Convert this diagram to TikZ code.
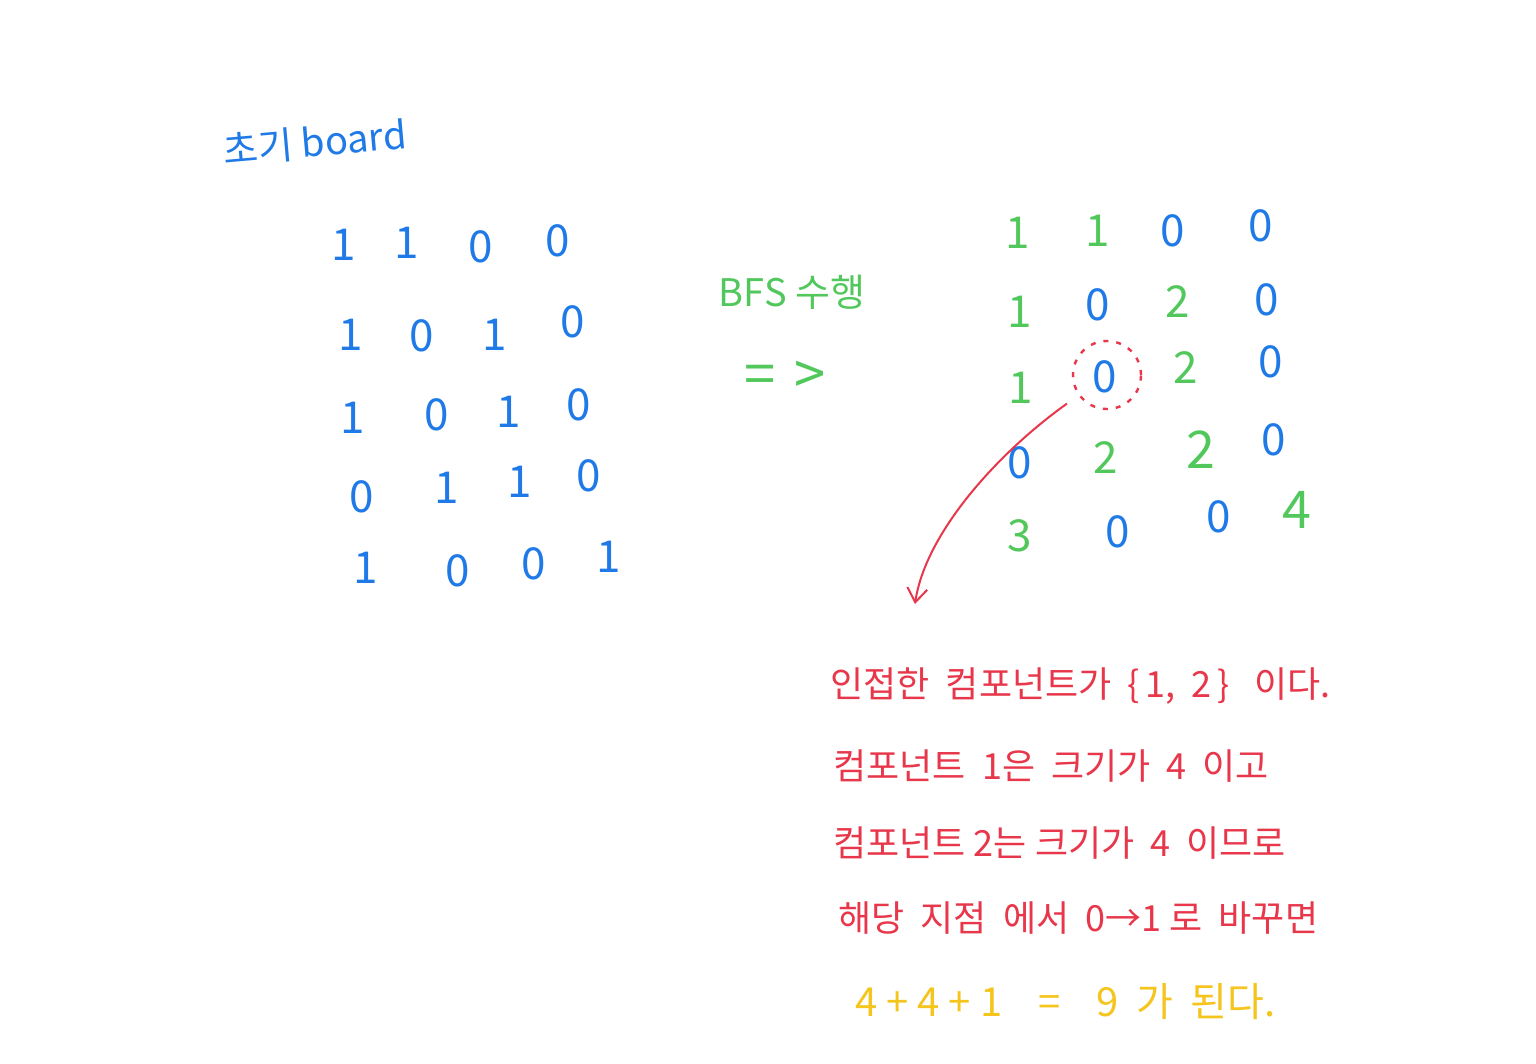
\documentclass[tikz,border=0pt]{standalone}
\usepackage{fontspec}
\setmainfont{Noto Sans CJK KR}
\usetikzlibrary{arrows.meta}
\definecolor{penblue}{HTML}{1F7AE8}
\definecolor{pengreen}{HTML}{52C85C}
\definecolor{penred}{HTML}{E8364A}
\definecolor{penyellow}{HTML}{F5C51E}
\tikzset{
  dg/.style={inner sep=0pt, font=\fontsize{22}{24}\selectfont},
  bz/.style={dg, text=penblue},
  gn/.style={dg, text=pengreen},
  note/.style={anchor=west, inner sep=0pt, text=penred, font=\fontsize{18}{20}\selectfont},
}
\begin{document}
\begin{tikzpicture}[x=0.5pt,y=-0.5pt]
\useasboundingbox[fill=white] (0,0) rectangle (1536,1064);
% title
\node[inner sep=0pt, text=penblue, rotate=5, font=\fontsize{19}{21}\selectfont] (title) at (315,142) {초기 board};
% left board
\node[bz] (a11) at (344,245) {1};
\node[bz] (a12) at (407,243) {1};
\node[bz] (a13) at (481,247) {0};
\node[bz] (a14) at (558,241) {0};
\node[bz] (a21) at (351,335) {1};
\node[bz] (a22) at (422,336) {0};
\node[bz] (a23) at (495,335) {1};
\node[bz] (a24) at (573,322) {0};
\node[bz] (a31) at (353,418) {1};
\node[bz] (a32) at (437,415) {0};
\node[bz] (a33) at (509,412) {1};
\node[bz] (a34) at (579,405) {0};
\node[bz] (a41) at (362,497) {0};
\node[bz] (a42) at (447,488) {1};
\node[bz] (a43) at (520,482) {1};
\node[bz] (a44) at (589,476) {0};
\node[bz] (a51) at (366,568) {1};
\node[bz] (a52) at (458,571) {0};
\node[bz] (a53) at (534,564) {0};
\node[bz] (a54) at (609,557) {1};
% BFS label
\node[inner sep=0pt, text=pengreen, font=\fontsize{19}{21}\selectfont] (bfs) at (792,292) {BFS 수행};
\node[inner sep=0pt, text=pengreen, font=\fontsize{28}{30}\selectfont] (imp) at (785,378) {=\,\,>};
% right board
\node[gn] (b11) at (1018,233) {1};
\node[gn] (b12) at (1098,231) {1};
\node[bz] (b13) at (1173,231) {0};
\node[bz] (b14) at (1261,226) {0};
\node[gn] (b21) at (1020,312) {1};
\node[bz] (b22) at (1098,305) {0};
\node[gn] (b23) at (1178,302) {2};
\node[bz] (b24) at (1267,300) {0};
\node[gn] (b31) at (1021,388) {1};
\node[bz] (b32) at (1105,377) {0};
\node[gn] (b33) at (1186,368) {2};
\node[bz] (b34) at (1271,362) {0};
\node[bz] (b41) at (1020,463) {0};
\node[gn] (b42) at (1106,458) {2};
\node[gn, font=\fontsize{26}{28}\selectfont] (b43) at (1201,450) {2};
\node[bz] (b44) at (1274,440) {0};
\node[gn] (b51) at (1020,536) {3};
\node[bz] (b52) at (1118,532) {0};
\node[bz] (b53) at (1219,517) {0};
\node[gn, font=\fontsize{26}{28}\selectfont] (b54) at (1297,510) {4};
% highlight and arrow
\node[draw=penred, circle, line width=1.2pt, dash pattern=on 2.5pt off 4pt, minimum size=34pt, inner sep=0pt] (hl) at (1107,375) {};
\coordinate (tip) at (915,604);
\draw[penred, line width=1pt, shorten <=7pt, -{Straight Barb[length=7pt,width=10pt,line width=1pt]}]
  (hl) .. controls (995,455) and (925,535) .. (tip);
% notes
\node[note] (n1) at (830,686) {인접한 \ 컴포넌트가 \ \{\,1,\ \ 2\,\} \ \ 이다.};
\node[note] (n2) at (833,766) {컴포넌트 \ 1은 \ 크기가 \ 4 \ 이고};
\node[note] (n3) at (833,843) {컴포넌트 2는 크기가 \ 4 \ 이므로};
\node[note] (n4) at (838,918) {해당 \ 지점 \ 에서 \ 0→1 로 \ 바꾸면};
\node[note, text=penyellow, font=\fontsize{20}{22}\selectfont] (n5) at (855,1002) {4 + 4 + 1 \ \ \ = \ \ \ 9 \ 가 \ 된다.};
\end{tikzpicture}
\end{document}
